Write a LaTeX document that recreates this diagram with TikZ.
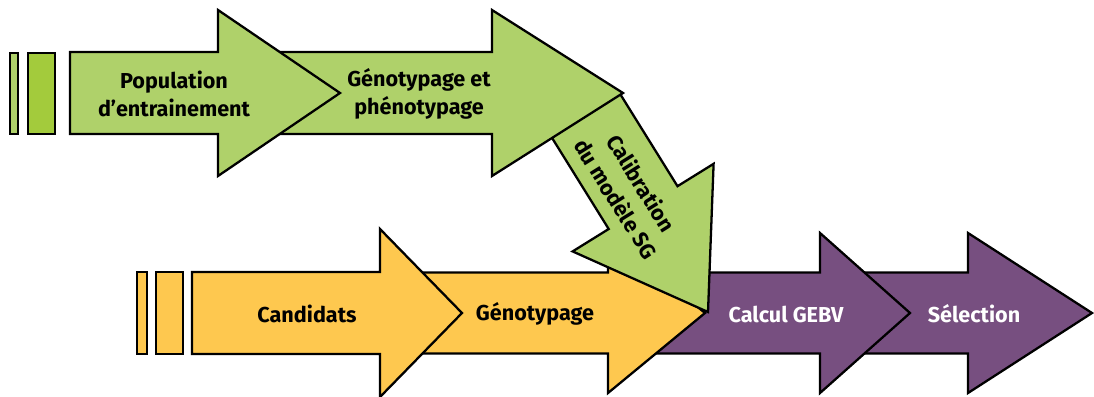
\documentclass[tikz,border=0pt]{standalone}
\usepackage{fontspec}
\setmainfont{Fira Sans}
\definecolor{leaf}{HTML}{AFD16A}
\definecolor{leafdark}{HTML}{A3CB3C}
\definecolor{mango}{HTML}{FEC84F}
\definecolor{plum}{HTML}{774F80}
\tikzset{
  arr/.style={draw=black,line width=1.3pt},
  lbl/.style={font=\fontsize{12.3}{16}\selectfont\bfseries,align=center,inner sep=0pt}
}
% block arrow: style, shaft start, head base, tip, centre y, shaft half, head half
\newcommand{\flowarrow}[7]{%
  \filldraw[arr,#1] (#2,#5-#6) -- (#3,#5-#6) -- (#3,#5-#7) -- (#4,#5)
    -- (#3,#5+#7) -- (#3,#5+#6) -- (#2,#5+#6) -- cycle;}

\begin{document}
\begin{tikzpicture}[x=0.02cm,y=-0.02cm]
  \useasboundingbox (0,0) rectangle (1094,396);
  % bottom row
  \flowarrow{fill=plum}{860}{968}{1092}{313}{40.5}{80}
  \flowarrow{fill=plum}{640}{820}{910}{313}{40.5}{80}
  \flowarrow{fill=mango}{405}{608}{705}{313}{40.5}{80}
  \flowarrow{fill=mango}{192}{380}{462}{313}{41}{84}
  \filldraw[arr,fill=mango] (137,272) rectangle (147,354);
  \filldraw[arr,fill=mango] (156,272) rectangle (183,354);
  % calibration arrow
  \fill[leaf] (618.9,92) -- (677.5,186.2) -- (713.6,163.8) -- (708,312)
    -- (572.6,251.4) -- (608.7,229) -- (550.6,135.6) -- cycle;
  \draw[arr] (618.9,92) -- (677.5,186.2) -- (713.6,163.8) -- (708,312)
    -- (572.6,251.4) -- (608.7,229) -- (550.6,135.6);
  % top row
  \flowarrow{fill=leaf}{250}{492}{623}{93}{41}{83}
  \flowarrow{fill=leaf}{70}{218}{340}{93}{41}{83}
  \filldraw[arr,fill=leaf] (10,53) rectangle (18,134);
  \filldraw[arr,fill=leafdark] (28,53) rectangle (55,134);
  % labels
  \node[lbl] (pop) at (174,94) {Population\\d’entrainement};
  \node[lbl] (geno) at (419,94) {Génotypage et\\phénotypage};
  \node[lbl,rotate=-58,font=\fontsize{12.3}{17}\selectfont\bfseries] (calib) at (629,191) {Calibration\\du modèle SG};
  \node[lbl] (cand) at (307,314) {Candidats};
  \node[lbl] (genob) at (535,314) {Génotypage};
  \node[lbl,white] (gebv) at (786,314) {Calcul GEBV};
  \node[lbl,white] (sel) at (974,314) {Sélection};
\end{tikzpicture}
\end{document}
